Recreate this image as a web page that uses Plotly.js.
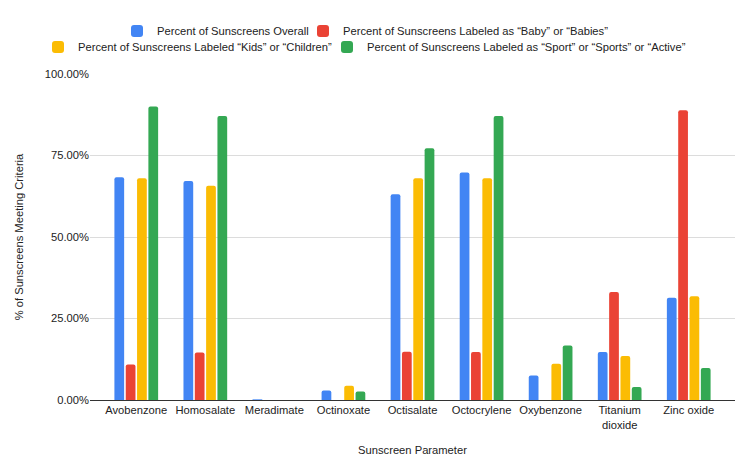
<!DOCTYPE html>
<html>
<head>
<meta charset="utf-8">
<script src="https://cdn.plot.ly/plotly-3.0.1.min.js"></script>
<style>
  html, body { margin: 0; padding: 0; background: #fff; }
  #chart { width: 750px; height: 469px; }
</style>
</head>
<body>
<div id="chart"></div>
<script>
  // Sunscreen ingredients (x categories)
  var categories = ['Avobenzone', 'Homosalate', 'Meradimate', 'Octinoxate', 'Octisalate',
    'Octocrylene', 'Oxybenzone', 'Titanium<br>dioxide', 'Zinc oxide'];

  // Share of sunscreens containing each ingredient (fraction)
  var overall  = [0.683, 0.672, 0.002, 0.029, 0.631, 0.698, 0.075, 0.147, 0.314];
  var baby     = [0.109, 0.146, 0, 0, 0.148, 0.147, 0, 0.331, 0.889];
  var kids     = [0.680, 0.657, 0, 0.044, 0.680, 0.680, 0.111, 0.135, 0.318];
  var sport    = [0.900, 0.871, 0, 0.026, 0.772, 0.871, 0.167, 0.040, 0.098];

  var seriesNames = [
    'Percent of Sunscreens Overall',
    'Percent of Sunscreens Labeled as \u201cBaby\u201d or \u201cBabies\u201d',
    'Percent of Sunscreens Labeled \u201cKids\u201d or \u201cChildren\u201d',
    'Percent of Sunscreens Labeled as \u201cSport\u201d or \u201cSports\u201d or \u201cActive\u201d'
  ];
  var yTicks = [0, 0.25, 0.5, 0.75, 1];

  var fontFamily = 'Arial, "Liberation Sans", Helvetica, sans-serif';
  var colors = ['#4285F4', '#EA4335', '#FBBC04', '#34A853'];
  var seriesValues = [overall, baby, kids, sport];

  // one legend per series so the two centred rows can be placed like the original
  var legendIds = ['legend', 'legend2', 'legend3', 'legend4'];
  var legendX = [117, 303, 38, 327];   // left edge, px
  var legendY = [31, 31, 47, 47];      // row centre, px from top

  var traces = seriesValues.map(function (vals, i) {
    return {
      type: 'bar',
      name: seriesNames[i],
      x: categories,
      y: vals,
      legend: legendIds[i],
      marker: { color: colors[i], cornerradius: 2 },
      hovertemplate: '%{x}: %{y:.2%}<extra></extra>'
    };
  });

  var layout = {
    width: 750,
    height: 469,
    margin: { l: 90, r: 15, t: 74, b: 69 },
    paper_bgcolor: '#ffffff',
    plot_bgcolor: '#ffffff',
    font: { family: fontFamily, size: 11, color: '#222' },
    barmode: 'group',
    bargap: 0.344,
    bargroupgap: 0.14,
    showlegend: true,
    xaxis: {
      range: [-0.67, 8.67],
      tickfont: { family: fontFamily, size: 11.2, color: '#222' },
      showgrid: false,
      showline: true,
      linecolor: '#333',
      linewidth: 1,
      ticks: '',
      title: { text: 'Sunscreen Parameter', font: { family: fontFamily, size: 11.2, color: '#222' }, standoff: 16 }
    },
    yaxis: {
      range: [0, 1],
      tickvals: yTicks,
      tickformat: '.2%',
      tickfont: { family: fontFamily, size: 11.2, color: '#222' },
      showgrid: true,
      gridcolor: '#dcdcdc',
      zeroline: true,
      zerolinecolor: '#333',
      zerolinewidth: 1,
      ticks: '',
      title: { text: '% of Sunscreens Meeting Criteria', font: { family: fontFamily, size: 11.2, color: '#222' }, standoff: 18 }
    }
  };

  legendIds.forEach(function (id, i) {
    layout[id] = {
      orientation: 'h',
      xref: 'container',
      yref: 'container',
      xanchor: 'left',
      yanchor: 'middle',
      x: legendX[i] / 750,
      y: 1 - legendY[i] / 469,
      font: { family: fontFamily, size: 11.2, color: '#222' },
      itemwidth: 30,
      bgcolor: 'rgba(0,0,0,0)'
    };
  });

  Plotly.newPlot('chart', traces, layout, { displayModeBar: false, staticPlot: true });
</script>
</body>
</html>
